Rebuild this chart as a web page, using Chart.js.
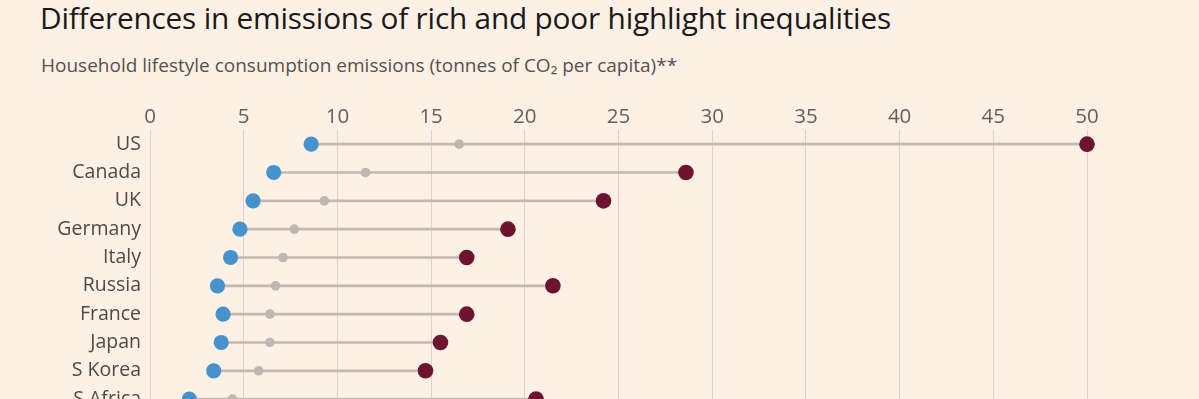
<!DOCTYPE html>
<html><head><meta charset="utf-8">
<script src="https://cdn.jsdelivr.net/npm/chart.js@4.4.1/dist/chart.umd.min.js"></script>
<style>
html,body{margin:0;padding:0;background:#fdf0e5;overflow:hidden;width:1199px;height:399px;}
#title{position:absolute;left:40px;top:-3px;font-family:"Open Sans",sans-serif;font-size:29.8px;color:#1b1919;white-space:nowrap;letter-spacing:-0.2px;}
#sub{position:absolute;left:41px;top:52px;font-family:"Open Sans",sans-serif;font-size:19px;color:#57514d;white-space:nowrap;}
#wrap{position:absolute;left:0;top:0;width:1199px;height:434px;}
</style></head>
<body>
<div id="title">Differences in emissions of rich and poor highlight inequalities</div>
<div id="sub">Household lifestyle consumption emissions (tonnes of CO₂ per capita)**</div>
<div id="wrap"><canvas id="c" width="1199" height="434"></canvas></div>
<script>
const countries = ["US","Canada","UK","Germany","Italy","Russia","France","Japan","S Korea","S Africa"];
const poorest = [8.6, 6.6, 5.5, 4.8, 4.3, 3.6, 3.9, 3.8, 3.4, 2.1];
const average = [16.5, 11.5, 9.3, 7.7, 7.1, 6.7, 6.4, 6.4, 5.8, 4.4];
const richest = [50.0, 28.6, 24.2, 19.1, 16.9, 21.5, 16.9, 15.5, 14.7, 20.6];
const xTicks = [0,5,10,15,20,25,30,35,40,45,50];

const FONT = '"Open Sans", sans-serif';
const ranges = countries.map((c,i)=>[poorest[i], richest[i]]);

new Chart(document.getElementById('c'), {
  data: {
    labels: countries,
    datasets: [
      {type:'bar', data: ranges, backgroundColor:'#c3bab2', barThickness:2, order:4, borderSkipped:false},
      {type:'line', data: average, showLine:false, pointRadius:4.8, pointBackgroundColor:'#c0b7b0', pointBorderWidth:0, order:3},
      {type:'line', data: poorest, showLine:false, pointRadius:7.6, pointBackgroundColor:'#4592cc', pointBorderWidth:0, order:2},
      {type:'line', data: richest, showLine:false, pointRadius:7.8, pointBackgroundColor:'#6d1530', pointBorderWidth:0, order:1}
    ]
  },
  options: {
    indexAxis:'y',
    responsive:false,
    animation:false,
    events:[],
    layout:{padding:{top:90,left:0,right:112,bottom:0}},
    plugins:{legend:{display:false},tooltip:{enabled:false}},
    clip:false,
    scales:{
      x:{
        type:'linear', position:'top', min:0, max:50,
        afterBuildTicks: s => { s.ticks = xTicks.map(v=>({value:v})); },
        afterFit: s => { s.height = 40; },
        grid:{color:'#dbd3cb', lineWidth:1, drawTicks:false},
        border:{display:false},
        ticks:{color:'#66605c', font:{family:FONT,size:20.5}, padding:1}
      },
      y:{
        type:'category', offset:true,
        afterFit: s => { s.width = 150; },
        grid:{display:false, drawTicks:false},
        border:{display:false},
        ticks:{color:'#4f4a47', font:{family:FONT,size:19.5}, padding:9}
      }
    }
  }
});
</script>
</body></html>
